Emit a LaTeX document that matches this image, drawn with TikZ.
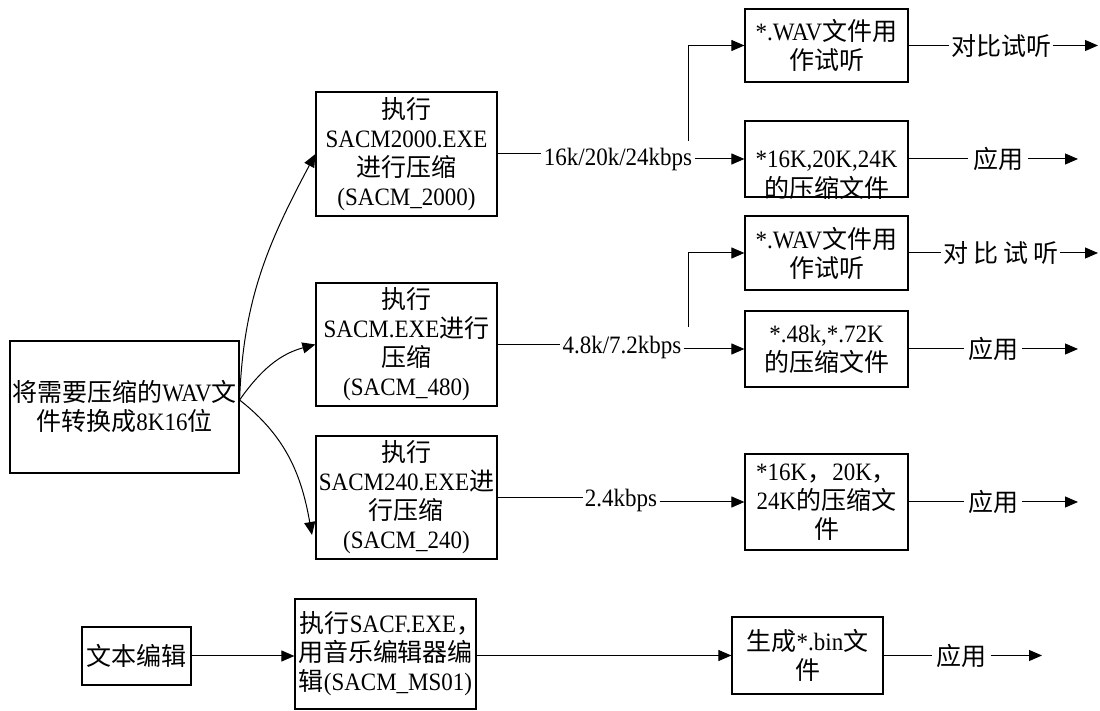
\documentclass[tikz,border=0pt]{standalone}
\usepackage{fontspec}
\setmainfont[FakeStretch=0.92]{Liberation Serif}
\newfontfamily\cjkf{Noto Sans CJK SC}
\newcommand\zh[1]{{\cjkf #1}}
\usetikzlibrary{arrows.meta,calc}
\begin{document}
\begin{tikzpicture}[x=0.5pt,y=0.5pt,
  txtfont/.style={font=\fontsize{12.5pt}{14.5pt}\selectfont},
  box/.style={draw, line width=0.6pt, inner sep=0pt, align=center, txtfont},
  lab/.style={inner sep=1pt, txtfont},
  con/.style={line width=0.5pt},
  arr/.style={con, -{Triangle[length=6.5pt,width=5.5pt]}},
]
\useasboundingbox (0,0) rectangle (1100,-711);

% source boxes
\node[box, minimum width=114.5pt, minimum height=66pt] (src) at (124.5,-407)
  {\zh{将需要压缩的}WAV\zh{文}\\\zh{件转换成}8K16\zh{位}};
\node[box, minimum width=90.5pt, minimum height=62pt] (c2000) at (406.5,-154)
  {\zh{执行}\\SACM2000.EXE\\\zh{进行压缩}\\(SACM\_2000)};
\node[box, minimum width=90.5pt, minimum height=61.5pt] (c480) at (406.5,-344.5)
  {\zh{执行}\\SACM.EXE\zh{进行}\\\zh{压缩}\\(SACM\_480)};
\node[box, minimum width=90.5pt, minimum height=61.5pt] (c240) at (406.5,-497.5)
  {\zh{执行}\\SACM240.EXE\zh{进}\\\zh{行压缩}\\(SACM\_240)};
\node[box, minimum width=54.5pt, minimum height=29pt] (txt) at (136.5,-656)
  {\zh{文本编辑}};
\node[box, minimum width=90.5pt, minimum height=55pt] (sacf) at (385.5,-654)
  {\zh{执行}SACF.EXE\zh{，}\kern-5pt\\\zh{用音乐编辑器编}\\\zh{辑}(SACM\_MS01)};

% result boxes
\node[box, minimum width=81.5pt, minimum height=36.5pt] (w1) at (826.5,-45.5)
  {*.WAV\zh{文件用}\\\zh{作试听}};
\node[box, minimum width=81.5pt, minimum height=38pt] (k1) at (826.5,-159)
  {\raisebox{-4.5pt}[0pt][0pt]{\renewcommand\arraystretch{1}\begin{tabular}[t]{@{}c@{}}*16K,20K,24K\\\zh{的压缩文件}\end{tabular}}};
\node[box, minimum width=81.5pt, minimum height=37pt] (w2) at (826.5,-253)
  {*.WAV\zh{文件用}\\\zh{作试听}};
\node[box, minimum width=81.5pt, minimum height=38pt] (k2) at (826.5,-349)
  {*.48k,*.72K\\\zh{的压缩文件}};
\node[box, minimum width=81.5pt, minimum height=48pt] (k3) at (826.5,-502)
  {*16K\zh{，}20K\zh{，}\\24K\zh{的压缩文}\\\zh{件}};
\node[box, minimum width=75.5pt, minimum height=38.5pt] (bin) at (807.5,-655.5)
  {\zh{生成}*.bin\zh{文}\\\zh{件}};

% curved connectors from source
\coordinate (o) at ([yshift=3.5pt]src.east);
\coordinate (e240) at (312,-535);
\draw[arr] (o) to[out=88, in=242] (c2000.west);
\draw[arr] (o) to[out=55, in=195] (c480.west);
\draw[arr] (o) to[out=-38, in=100] (e240);

% row 1
\node[lab] (l1) at (618,-159) {16k/20k/24kbps};
\draw[con] (c2000.east) -- (c2000.east -| l1.west);
\draw[arr] (l1.east) -- (k1.west);
\coordinate (b1) at (688,-141);
\draw[arr] (b1) |- (w1.west);

% row 2
\node[lab] (l2) at (622,-347) {4.8k/7.2kbps};
\draw[con] (c480.east) -- (c480.east -| l2.west);
\draw[arr] (l2.east |- k2.west) -- (k2.west);
\coordinate (b2) at (688,-327);
\draw[arr] (b2) |- (w2.west);

% row 3
\node[lab] (l3) at (621,-500) {2.4kbps};
\draw[con] (c240.east) -- (c240.east -| l3.west);
\draw[arr] (l3.east |- k3.west) -- (k3.west);

% row 4
\draw[arr] (txt.east) -- (txt.east -| sacf.west);
\draw[arr] (sacf.east |- bin.west) -- (bin.west);

% outputs
\node[lab] (o1) at (1001,-45.5) {\zh{对比试听}};
\coordinate (e1) at (1098,-45.5);
\draw[con] (w1.east) -- (o1.west);
\draw[arr] (o1.east) -- (e1);

\node[lab, inner sep=2.5pt] (o2) at (998,-159) {\zh{应用}};
\coordinate (e2) at (1078,-159);
\draw[con] (k1.east) -- (o2.west);
\draw[arr] (o2.east) -- (e2);

\node[lab] (o3) at (1000.5,-253) {\zh{对\hspace{2.5pt}比\hspace{2.5pt}试\hspace{2.5pt}听}};
\coordinate (e3) at (1098,-253);
\draw[con] (w2.east) -- (o3.west);
\draw[arr] (o3.east) -- (e3);

\node[lab, inner sep=2pt] (o4) at (993,-349) {\zh{应用}};
\coordinate (e4) at (1078,-349);
\draw[con] (k2.east) -- (o4.west);
\draw[arr] (o4.east) -- (e4);

\node[lab, inner sep=2pt] (o5) at (993,-502) {\zh{应用}};
\coordinate (e5) at (1078,-502);
\draw[con] (k3.east) -- (o5.west);
\draw[arr] (o5.east) -- (e5);

\node[lab, inner sep=2pt] (o6) at (961.5,-655.5) {\zh{应用}};
\coordinate (e6) at (1042,-655.5);
\draw[con] (bin.east) -- (o6.west);
\draw[arr] (o6.east) -- (e6);
\end{tikzpicture}
\end{document}
